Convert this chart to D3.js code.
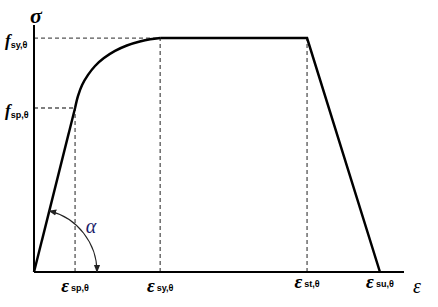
<!DOCTYPE html>
<html>
<head>
<meta charset="utf-8">
<script src="https://cdn.jsdelivr.net/npm/d3@7"></script>
<style>
  body { margin: 0; background: #fff; }
  svg { display: block; }
  .sub { font-family: "Liberation Sans", Arial, sans-serif; font-weight: bold; font-size: 9px; font-style: normal; }
</style>
</head>
<body>
<svg id="chart" width="438" height="307"></svg>
<script>
// strain / stress, normalised to the axis length
var eps_sp = 0.111, eps_sy = 0.341, eps_st = 0.738, eps_su = 0.935;
var f_sp = 0.664, f_sy = 0.947;

// elliptical branch
var curve_eps = [0.111, 0.119, 0.130, 0.146, 0.165, 0.189, 0.219, 0.251, 0.286, 0.314, 0.341];
var curve_f   = [0.664, 0.713, 0.757, 0.798, 0.834, 0.866, 0.895, 0.917, 0.933, 0.942, 0.947];

var x_labels = [
  {sub: "sp,θ", v: eps_sp},
  {sub: "sy,θ", v: eps_sy},
  {sub: "st,θ", v: eps_st},
  {sub: "su,θ", v: eps_su}
];
var y_labels = [
  {sub: "sy,θ", v: f_sy},
  {sub: "sp,θ", v: f_sp}
];

var svg = d3.select("#chart");
var x = d3.scaleLinear().domain([0, 1]).range([34, 404]),
    y = d3.scaleLinear().domain([0, 1]).range([272, 25]);

var defs = svg.append("defs");
defs.append("marker").attr("id", "arr")
    .attr("viewBox", "0 0 10 10").attr("refX", 9).attr("refY", 5)
    .attr("markerWidth", 7).attr("markerHeight", 7).attr("orient", "auto-start-reverse")
  .append("path").attr("d", "M0,1L10,5L0,9z").attr("fill", "#222");

// dashed guides
var dash = svg.append("g").attr("stroke", "#555").attr("stroke-width", 1.3)
    .attr("stroke-dasharray", "4,3").attr("fill", "none");
dash.append("line").attr("x1", x(0)).attr("x2", x(eps_sy)).attr("y1", y(f_sy)).attr("y2", y(f_sy));
dash.append("line").attr("x1", x(0)).attr("x2", x(eps_sp)).attr("y1", y(f_sp)).attr("y2", y(f_sp));
dash.append("line").attr("x1", x(eps_sp)).attr("x2", x(eps_sp)).attr("y1", y(0)).attr("y2", y(f_sp));
dash.append("line").attr("x1", x(eps_sy)).attr("x2", x(eps_sy)).attr("y1", y(0)).attr("y2", y(f_sy));
dash.append("line").attr("x1", x(eps_st)).attr("x2", x(eps_st)).attr("y1", y(0)).attr("y2", y(f_sy));

// axes
svg.append("line").attr("x1", x(0)).attr("x2", x(0)).attr("y1", y(0)).attr("y2", y(1))
    .attr("stroke", "#000").attr("stroke-width", 2);
svg.append("line").attr("x1", x(0)).attr("x2", x(1)).attr("y1", y(0)).attr("y2", y(0))
    .attr("stroke", "#000").attr("stroke-width", 2);

// stress-strain curve
var pts = [[0, 0]];
curve_eps.forEach(function(e, i) { pts.push([e, curve_f[i]]); });
pts.push([eps_st, f_sy], [eps_su, 0]);

var line = d3.line().x(function(d) { return x(d[0]); }).y(function(d) { return y(d[1]); });
svg.append("path")
    .attr("d", line.curve(d3.curveLinear)([pts[0], pts[1]]))
    .attr("fill", "none").attr("stroke", "#000").attr("stroke-width", 2.5);
svg.append("path")
    .attr("d", line.curve(d3.curveCatmullRom.alpha(0.5))(pts.slice(1, curve_eps.length + 1)))
    .attr("fill", "none").attr("stroke", "#000").attr("stroke-width", 2.5);
svg.append("path")
    .attr("d", line.curve(d3.curveLinear)(pts.slice(curve_eps.length)))
    .attr("fill", "none").attr("stroke", "#000").attr("stroke-width", 2.5).attr("stroke-linejoin", "miter");

// alpha arc
var ox = x(0), oy = y(0), r = 63;
var ang = Math.atan2(y(0) - y(f_sp), x(eps_sp) - x(0));
svg.append("path")
    .attr("d", "M" + (ox + r * Math.cos(ang)) + "," + (oy - r * Math.sin(ang)) +
               "A" + r + "," + r + " 0 0 1 " + (ox + r) + "," + oy)
    .attr("fill", "none").attr("stroke", "#222").attr("stroke-width", 1.1)
    .attr("marker-start", "url(#arr)").attr("marker-end", "url(#arr)");
svg.append("text").attr("x", 91).attr("y", 233).attr("text-anchor", "middle")
    .attr("font-family", "Liberation Serif, serif").attr("font-style", "italic")
    .attr("font-size", 20).attr("fill", "#1c1c6a").text("α");

// axis symbols
svg.append("text").attr("x", 36).attr("y", 23).attr("text-anchor", "middle")
    .attr("font-family", "Liberation Serif, serif").attr("font-style", "italic").attr("font-weight", "bold")
    .attr("font-size", 22).text("σ");
svg.append("text").attr("x", 413).attr("y", 293)
    .attr("font-family", "Liberation Serif, serif").attr("font-style", "italic")
    .attr("font-size", 20).text("ε");

// y labels
y_labels.forEach(function(d) {
  var t = svg.append("text").attr("x", 5).attr("y", y(d.v) + 8)
      .attr("font-family", "Liberation Serif, serif").attr("font-style", "italic").attr("font-weight", "bold")
      .attr("font-size", 17);
  t.append("tspan").text("f");
  t.append("tspan").attr("class", "sub").attr("dy", 2).text(d.sub);
});

// x labels (the two right ones sit a little higher)
x_labels.forEach(function(d, i) {
  var t = svg.append("text").attr("x", x(d.v)).attr("y", i < 2 ? 292 : 288).attr("text-anchor", "middle")
      .attr("font-family", "Liberation Serif, serif").attr("font-style", "italic").attr("font-weight", "bold")
      .attr("font-size", 19);
  t.append("tspan").text("ε");
  t.append("tspan").attr("class", "sub").attr("dx", 2).attr("dy", -1).text(d.sub);
});
</script>
</body>
</html>
